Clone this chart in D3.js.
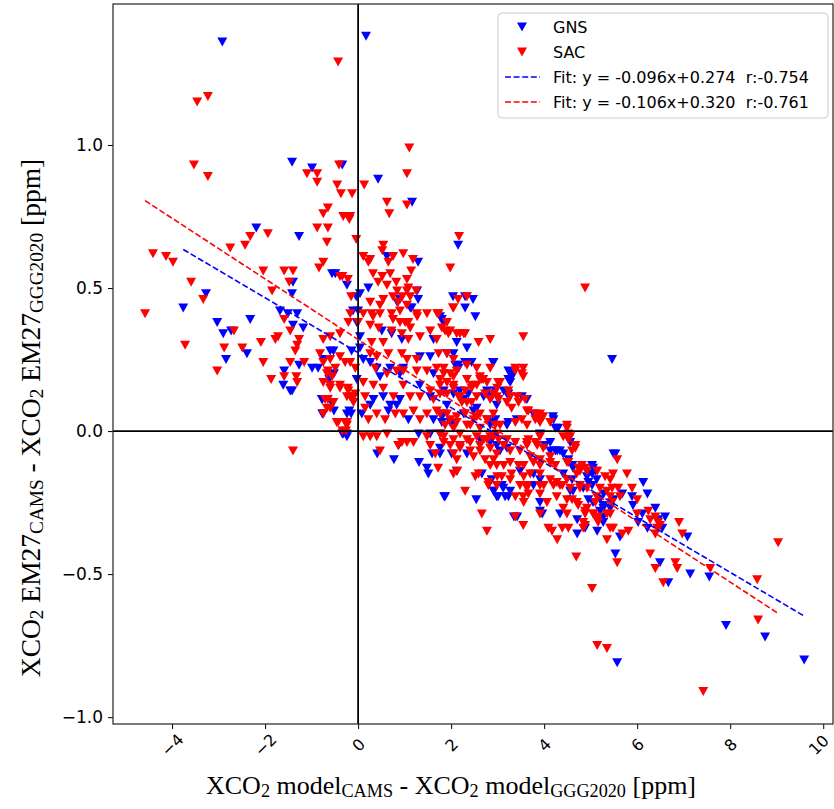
<!DOCTYPE html>
<html>
<head>
<meta charset="utf-8">
<script src="https://cdn.jsdelivr.net/npm/d3@7"></script>
<style>
  body { margin: 0; background: #fff; }
  svg text { font-family: "DejaVu Sans", sans-serif; }
  .axis-title { font-family: "Liberation Serif", "Times New Roman", serif; fill: #000; }
</style>
</head>
<body>
<div id="chart"></div>
<script>
// GNS station: [x, y] = [XCO2 model CAMS - GGG2020, XCO2 EM27 CAMS - GGG2020] in ppm
var gnsPoints = [
  [-2.92,1.36],[-1.42,0.94],[-0.99,0.92],[-0.34,0.93],[-2.19,0.71],[-1.27,0.68],
  [-1.40,0.52],[-1.42,0.48],[-3.27,0.48],[-3.76,0.43],[-0.56,0.55],[-0.49,0.55],[-0.24,0.51],[-0.04,0.47],
  [-1.68,0.42],[-1.51,0.41],[-1.31,0.41],[-1.18,0.36],[-1.40,0.37],[-2.32,0.39],[-3.03,0.38],[-2.90,0.34],
  [-2.73,0.35],[-2.39,0.27],[-2.84,0.25],[-1.27,0.23],[-0.99,0.22],[-0.86,0.22],[-1.59,0.21],[-1.61,0.16],
  [-1.46,0.14],[-1.42,0.14],[-0.62,0.18],[-0.52,0.20],[-0.77,0.11],[-0.77,0.06],[-0.52,0.07],[-0.19,0.07],
  [-0.15,0.06],[-0.34,-0.01],[-0.24,-0.01],
  [0.62,0.61],[1.29,0.59],[2.15,0.65],[0.22,0.50],[1.27,0.49],[1.29,0.46],[0.04,0.48],[0.84,0.45],[1.12,0.43],
  [2.04,0.47],[2.30,0.47],[2.47,0.46],[2.30,0.43],[-0.11,0.42],[0.00,0.42],[1.76,0.40],[1.83,0.38],[2.52,0.40],
  [2.15,0.23],[2.30,0.24],[2.90,0.24],[3.23,0.21],[3.31,0.19],[3.27,0.17],[2.77,0.13],[2.88,0.12],[3.20,0.13],
  [4.19,0.05],[4.30,0.01],[4.24,0.01],[4.13,-0.04],[4.28,-0.07],
  [0.17,1.38],[0.43,0.88],[1.16,0.80],[5.46,0.25],
  [-0.03,0.38],[0.90,0.46],[1.15,0.43],[1.80,0.39],
  [0.51,0.35],[0.72,0.34],[0.94,0.32],[0.04,0.33],[-0.60,0.28],[-0.53,0.28],[1.62,0.32],[2.12,0.31],[2.34,0.29],[1.91,0.27],
  [-0.75,0.25],[-0.14,0.28],[0.04,0.29],[0.11,0.25],[0.26,0.24],[0.40,0.22],[0.47,0.19],[0.69,0.22],[0.97,0.22],
  [1.33,0.26],[1.55,0.26],[2.05,0.27],[2.16,0.22],[2.44,0.24],[2.91,0.24],[0.90,0.20],[1.62,0.20],
  [-0.78,0.11],[-0.57,0.10],[-0.03,0.18],[0.33,0.11],[0.54,0.12],[0.69,0.09],[0.90,0.11],[1.33,0.16],[1.55,0.12],
  [1.84,0.14],[2.05,0.13],[2.27,0.11],[2.70,0.12],[2.77,0.14],[2.95,0.14],
  [-0.75,0.06],[-0.24,0.06],[0.08,0.06],[0.26,0.09],[0.65,0.07],[0.83,0.09],[1.08,0.04],[1.62,0.04],[1.80,0.05],
  [2.05,0.03],[2.27,0.06],[2.48,0.07],[2.84,0.02],[2.95,0.04],
  [-0.32,-0.01],[-0.24,-0.02],[0.87,-0.05],[1.55,-0.01],[1.30,-0.01],[1.76,-0.08],[2.34,-0.08],[2.62,-0.03],[2.84,-0.04],[2.98,-0.05],
  [2.09,0.23],[3.27,0.20],[3.23,0.18],[2.19,0.14],[2.37,0.13],[3.13,0.14],[3.23,0.13],[3.52,0.12],[3.63,0.11],
  [2.98,0.09],[1.91,0.09],[2.55,0.08],[1.84,0.06],[1.80,0.03],[1.98,0.03],[2.84,0.03],[3.23,0.03],[3.41,0.04],
  [3.77,0.06],[4.20,0.04],[3.20,0.02],
  [1.76,-0.01],[2.01,-0.08],[2.19,-0.05],[3.05,-0.07],[3.20,-0.06],[3.91,-0.01],[4.02,-0.05],[4.13,-0.07],[4.24,-0.07],
  [4.34,-0.07],[4.52,-0.10],[4.60,-0.12],[5.49,-0.08],[5.03,-0.12],[5.10,-0.14],
  [2.12,-0.14],[2.66,-0.15],[2.87,-0.17],[3.48,-0.14],[3.77,-0.15],[3.91,-0.17],[4.41,-0.15],[4.60,-0.17],[4.92,-0.16],
  [5.03,-0.15],[5.13,-0.17],[5.03,-0.19],[5.28,-0.22],[2.91,-0.21],[3.09,-0.19],[3.27,-0.21],[3.77,-0.19],[4.56,-0.21],
  [1.87,-0.23],[2.98,-0.23],[3.16,-0.23],[3.91,-0.25],[4.34,-0.29],[5.28,-0.26],[5.20,-0.24],[5.49,-0.24],
  [0.41,-0.08],[0.77,-0.10],[1.31,-0.11],[1.48,-0.13],[1.51,-0.15],[1.59,-0.08],[1.76,-0.06],[1.85,-0.23],[2.54,-0.24],
  [2.92,-0.21],[3.01,-0.23],[3.12,-0.20],[3.23,-0.23],[3.35,-0.30],[3.42,-0.30],[3.91,-0.28],[3.96,-0.29],[4.71,-0.31],[4.71,-0.36],
  [4.56,-0.04],[4.41,-0.08],[4.60,-0.12],[4.62,-0.13],[5.05,-0.13],[4.95,-0.18],[5.53,-0.08],[4.62,-0.21],[4.84,-0.20],
  [6.13,-0.18],[6.22,-0.22],[4.95,-0.24],[5.05,-0.25],[5.27,-0.27],[5.20,-0.28],[5.68,-0.22],[5.89,-0.23],[5.91,-0.26],
  [5.42,-0.27],[5.27,-0.30],[6.39,-0.27],[6.60,-0.30],[6.11,-0.29],[4.88,-0.34],[5.14,-0.35],[5.27,-0.32],[5.63,-0.37],
  [6.02,-0.32],[6.22,-0.34],[6.45,-0.31],[6.54,-0.34],[7.08,-0.37],[5.53,-0.43],[6.49,-0.46],[7.14,-0.50],[7.55,-0.51],
  [6.67,-0.53],[7.91,-0.68],[8.75,-0.72],[9.59,-0.80],[5.57,-0.81]
];

// SAC station
var sacPoints = [
  [-0.43,1.29],[-3.46,1.15],[-3.23,1.17],[-3.53,0.93],[-3.23,0.89],[-1.10,0.90],[-0.88,0.90],[-0.88,0.87],[-0.41,0.93],
  [-0.45,0.86],[-0.37,0.83],[-0.13,0.83],[-0.65,0.78],[-0.75,0.76],[-0.32,0.75],[-0.19,0.74],[-0.88,0.71],[-0.65,0.71],
  [-1.94,0.69],[-2.32,0.68],[-0.67,0.66],[-0.04,0.67],[-2.43,0.65],[-2.75,0.64],
  [-4.41,0.62],[-4.13,0.61],[-3.98,0.59],[-0.84,0.57],[-0.75,0.59],[-2.04,0.56],[-1.59,0.56],[-1.40,0.56],[-1.48,0.52],
  [-3.59,0.52],[-1.85,0.49],[-3.33,0.46],[-4.58,0.41],[-0.39,0.54],[-0.22,0.53],[-0.15,0.47],[-1.59,0.39],[-1.46,0.35],
  [-2.67,0.35],[-2.09,0.31],[-1.78,0.32],[-1.72,0.33],[-1.27,0.32],[-1.31,0.30],[-1.35,0.28],[-3.72,0.30],[-2.88,0.29],
  [-2.49,0.29],[-2.04,0.24],[-1.46,0.24],[-1.16,0.24],[-0.75,0.24],[-0.65,0.21],[-0.49,0.22],[-0.39,0.26],[-0.28,0.24],
  [-0.17,0.24],[-0.06,0.22],[-3.03,0.21],[-1.87,0.18],[-1.59,0.19],[-1.33,0.19],[-1.31,0.17],[-0.67,0.20],[-0.56,0.19],
  [-0.60,0.15],[-0.39,0.15],[-0.22,0.15],[-0.65,0.11],[-0.60,0.08],[-0.17,0.12],[-0.06,0.13],[-0.43,0.03],[-0.24,0.03],
  [-0.26,0.00],[-1.40,-0.07],
  [0.54,0.65],[0.52,0.63],[0.11,0.61],[0.22,0.59],[0.26,0.60],[0.75,0.61],[0.97,0.62],[0.65,0.59],[1.18,0.60],[1.14,0.56],
  [1.98,0.57],[2.17,0.68],[0.32,0.55],[0.52,0.54],[0.69,0.55],[-0.34,0.54],[0.43,0.52],[0.62,0.51],[0.82,0.52],[1.05,0.53],
  [1.08,0.50],[0.84,0.49],[1.05,0.49],[1.25,0.49],[0.54,0.46],[0.75,0.47],[0.95,0.47],[1.12,0.47],[0.26,0.45],[0.47,0.44],
  [0.86,0.45],[1.05,0.44],[0.90,0.42],[2.15,0.46],[2.34,0.47],[2.04,0.43],[-0.17,0.41],[0.00,0.38],[0.11,0.41],[0.32,0.40],
  [0.47,0.41],[0.75,0.39],[1.01,0.38],[1.27,0.40],[1.48,0.41],[1.70,0.41],[1.87,0.35],[1.98,0.35],[2.19,0.34],[2.30,0.34],
  [2.84,0.32],[3.55,0.33],[4.88,0.50],[2.62,0.19],[2.69,0.18],[3.38,0.22],[3.55,0.22],[3.55,0.19],[3.01,0.17],[2.99,0.15],
  [3.23,0.14],[3.27,0.12],[3.42,0.12],[3.59,0.11],[3.63,0.07],[3.81,0.06],[3.91,0.06],[3.98,0.05],[4.13,0.03],[4.49,0.01],
  [4.56,-0.02],[4.67,-0.06],[4.60,-0.07],[3.66,-0.03],[3.85,-0.05],[3.98,-0.06],
  [1.10,0.99],[1.05,0.90],[0.13,0.86],[0.62,0.80],[0.67,0.76],[1.05,0.79],[-0.17,0.75],
  [0.29,0.41],[0.72,0.41],[0.90,0.38],[1.08,0.38],[1.26,0.41],[1.73,0.41],[1.91,0.38],[1.80,0.36],[2.05,0.43],[-0.21,0.38],[-0.39,0.34],
  [0.26,0.37],[0.44,0.36],[0.72,0.35],[0.94,0.34],[1.12,0.36],[1.33,0.33],[1.55,0.35],[1.94,0.34],[2.12,0.34],[2.27,0.34],
  [1.69,0.32],[1.08,0.32],[0.54,0.31],[0.29,0.31],[-0.60,0.33],[-0.75,0.32],[2.59,0.31],
  [-0.82,0.27],[-0.60,0.25],[0.26,0.27],[0.40,0.26],[0.65,0.27],[0.94,0.27],[1.05,0.25],[1.26,0.25],[1.73,0.27],[1.91,0.27],
  [2.05,0.25],[2.34,0.23],[2.55,0.22],[2.84,0.22],[0.37,0.22],[0.62,0.20],[0.83,0.21],[0.97,0.21],[1.26,0.21],[1.48,0.21],
  [1.69,0.22],[1.84,0.20],[2.05,0.19],[2.34,0.18],[2.66,0.18],
  [-0.75,0.17],[-0.60,0.16],[-0.39,0.16],[-0.21,0.14],[-0.10,0.12],[0.11,0.17],[0.15,0.12],[0.33,0.16],[0.54,0.15],[0.76,0.12],
  [0.97,0.16],[1.12,0.12],[1.33,0.12],[1.55,0.14],[1.62,0.11],[1.76,0.16],[2.05,0.15],[2.19,0.12],[2.44,0.15],[2.55,0.16],
  [2.77,0.17],[2.84,0.11],[2.98,0.12],[-0.71,0.11],[-0.53,0.10],[-0.10,0.10],[-0.24,0.12],
  [-0.46,0.03],[-0.24,0.02],[0.15,0.08],[0.22,0.04],[0.40,0.06],[0.58,0.04],[0.80,0.06],[0.97,0.06],[1.19,0.07],[1.33,0.04],
  [1.48,0.06],[1.69,0.07],[1.91,0.06],[2.12,0.03],[2.34,0.02],[2.55,0.05],[2.77,0.04],[2.91,0.06],[-0.75,0.06],[-0.67,0.08],
  [0.11,-0.02],[0.26,-0.02],[0.40,-0.02],[0.62,-0.01],[0.94,-0.04],[1.05,-0.04],[1.19,-0.04],[1.48,-0.02],[1.55,-0.05],[1.66,-0.08],
  [2.05,-0.08],[2.19,-0.05],[2.41,-0.04],[2.62,-0.05],[2.77,-0.03],[2.91,-0.02],[2.98,-0.01],[1.76,-0.01],[1.84,-0.04],
  [1.84,0.22],[1.98,0.20],[2.12,0.21],[1.76,0.18],[1.91,0.17],[2.62,0.18],[3.05,0.17],[3.38,0.21],[3.52,0.20],
  [2.05,0.16],[2.30,0.14],[2.44,0.16],[2.55,0.12],[2.73,0.13],[2.91,0.13],[3.02,0.11],[3.20,0.10],[3.30,0.08],[3.45,0.10],
  [1.76,0.13],[1.91,0.13],[2.16,0.12],[2.23,0.10],[2.34,0.10],[2.44,0.10],
  [1.76,0.06],[1.98,0.04],[2.12,0.05],[2.30,0.06],[2.48,0.04],[2.62,0.06],[2.77,0.04],[2.95,0.02],[3.05,0.02],[3.38,0.03],
  [3.52,0.04],[3.66,0.07],[3.81,0.04],[3.91,0.05],[3.91,0.03],[3.63,0.02],[4.49,0.02],[1.87,0.02],[2.05,0.01],[2.41,0.02],[2.62,0.01],
  [1.84,-0.02],[2.05,-0.03],[2.19,-0.01],[2.34,-0.03],[2.55,-0.02],[2.70,-0.03],[2.84,-0.02],[3.02,-0.03],[3.20,-0.03],[3.38,-0.04],
  [3.63,-0.04],[3.81,-0.04],[3.91,-0.02],[4.41,-0.02],[4.52,-0.03],[4.67,-0.05],[1.98,-0.05],[2.19,-0.06],[2.41,-0.07],[2.48,-0.09],
  [2.62,-0.07],[2.84,-0.06],[2.98,-0.08],[3.13,-0.05],[3.27,-0.07],[3.48,-0.07],[3.63,-0.05],[3.70,-0.09],[3.91,-0.10],[4.13,-0.09],
  [2.91,-0.10],[2.73,-0.10],[2.12,-0.10],
  [2.84,-0.12],[2.98,-0.12],[3.13,-0.12],[3.27,-0.11],[3.45,-0.12],[3.56,-0.12],[3.77,-0.11],[3.91,-0.12],[4.13,-0.11],[4.24,-0.12],
  [4.74,-0.13],[4.81,-0.12],[4.92,-0.14],[5.20,-0.20],[5.35,-0.21],[5.46,-0.20],[2.05,-0.15],[2.52,-0.16],[3.09,-0.16],[3.30,-0.15],
  [3.56,-0.16],[3.70,-0.15],[3.91,-0.15],[4.13,-0.17],[4.27,-0.18],[4.49,-0.17],[4.70,-0.15],[2.80,-0.19],[2.98,-0.19],[3.27,-0.17],
  [3.48,-0.19],[3.63,-0.19],[3.91,-0.19],[3.99,-0.19],[4.20,-0.19],[4.34,-0.19],[4.77,-0.19],[4.92,-0.20],[2.30,-0.21],[2.59,-0.15],
  [3.38,-0.23],[3.56,-0.25],[3.66,-0.22],[3.91,-0.22],[4.27,-0.23],[4.06,-0.25],[4.49,-0.24],[4.70,-0.25],[4.92,-0.27],[5.13,-0.23],
  [5.46,-0.25],[5.06,-0.29],[3.91,-0.29],[2.66,-0.29],[3.38,-0.30],[5.35,-0.29],
  [-0.28,0.03],[-0.34,0.00],[0.47,-0.07],[0.86,-0.05],[1.72,-0.13],[2.13,-0.14],[2.80,-0.18],[2.99,-0.16],[2.77,-0.35],
  [3.55,-0.33],[3.55,-0.23],[3.63,-0.20],[4.09,-0.34],[4.17,-0.35],[4.28,-0.38],[4.52,-0.34],[4.88,-0.28],[4.88,-0.33],
  [4.52,-0.01],[4.49,-0.11],[4.52,-0.11],[4.77,-0.14],[4.88,-0.13],[5.14,-0.14],[5.31,-0.16],[5.42,-0.17],[5.48,-0.15],
  [5.78,-0.15],[5.57,-0.10],[4.39,-0.19],[4.56,-0.20],[4.77,-0.20],[5.59,-0.20],[5.89,-0.20],[4.60,-0.24],[4.73,-0.26],
  [5.10,-0.25],[5.42,-0.23],[5.63,-0.23],[6.00,-0.24],[4.41,-0.27],[4.49,-0.29],[4.88,-0.29],[5.05,-0.29],[5.16,-0.30],
  [5.42,-0.29],[6.00,-0.29],[6.24,-0.28],[6.39,-0.30],[6.45,-0.32],[4.39,-0.34],[4.84,-0.32],[4.84,-0.34],[5.14,-0.31],
  [5.16,-0.32],[5.42,-0.34],[5.48,-0.34],[5.81,-0.35],[5.68,-0.36],[5.35,-0.38],[6.28,-0.31],[6.43,-0.34],[6.49,-0.33],
  [6.39,-0.36],[6.90,-0.32],[6.97,-0.36],[4.69,-0.44],[5.57,-0.46],[6.28,-0.43],[6.39,-0.48],[6.82,-0.46],[6.86,-0.48],
  [7.57,-0.48],[5.03,-0.55],[6.56,-0.53],[9.03,-0.39],[8.58,-0.52],[8.60,-0.66],[5.14,-0.75],[5.35,-0.76],[7.42,-0.91]
];

var seriesNames = ['GNS', 'SAC'];
var seriesColors = ['#0000ff', '#ff0000'];
var fitSlopes = [-0.096, -0.106];
var fitIntercepts = [0.274, 0.320];
var fitR = [-0.754, -0.761];

var xTicks = [-4, -2, 0, 2, 4, 6, 8, 10];
var yTicks = [-1.0, -0.5, 0.0, 0.5, 1.0];

var margin = { top: 4, right: 1, bottom: 85, left: 113 };
var width = 834 - margin.left - margin.right,
    height = 809 - margin.top - margin.bottom;

var svg = d3.select('#chart')
            .append('svg')
            .attr('width', 834)
            .attr('height', 809);

var g = svg.append('g')
           .attr('transform', 'translate(' + margin.left + ',' + margin.top + ')');

var x = d3.scaleLinear().domain([-5.27, 10.21]).range([0, width]);
var y = d3.scaleLinear().domain([-1.024, 1.493]).range([height, 0]);

// Axes
var yAxis = d3.axisLeft(y)
              .tickValues(yTicks)
              .tickSize(5)
              .tickPadding(5)
              .tickFormat(d3.format('.1f'));

var xAxis = d3.axisBottom(x)
              .tickValues(xTicks)
              .tickSize(5)
              .tickPadding(0)
              .tickFormat(d3.format('d'));

var yG = g.append('g').attr('class', 'y-axis').call(yAxis);
yG.select('.domain').remove();
yG.selectAll('line').attr('stroke', '#000').attr('stroke-width', 1);
yG.selectAll('text').attr('font-size', 17).attr('fill', '#000');

var xG = g.append('g')
          .attr('class', 'x-axis')
          .attr('transform', 'translate(0,' + height + ')')
          .call(xAxis);
xG.select('.domain').remove();
xG.selectAll('line').attr('stroke', '#000').attr('stroke-width', 1);
xG.selectAll('text')
  .attr('font-size', 16)
  .attr('fill', '#000')
  .attr('y', 0)
  .attr('dy', null)
  .attr('text-anchor', 'middle')
  .attr('dominant-baseline', 'central')
  .attr('transform', function(d) {
    // keep the last label inside the picture
    var dx = d === 10 ? -5 : 0;
    return 'translate(' + dx + ',21) rotate(-45)';
  });

// Scatter
var tri = 'M-5,-4.5L5,-4.5L0,4.5Z';
[gnsPoints, sacPoints].forEach(function(pts, i) {
  g.append('g')
   .selectAll('path')
   .data(pts)
   .enter()
   .append('path')
   .attr('d', tri)
   .attr('fill', seriesColors[i])
   .attr('transform', function(d) {
     return 'translate(' + x(d[0]) + ',' + y(d[1]) + ')';
   });
});

// Zero lines
g.append('line')
 .attr('x1', 0).attr('x2', width)
 .attr('y1', y(0)).attr('y2', y(0))
 .attr('stroke', '#000').attr('stroke-width', 1.8);

g.append('line')
 .attr('x1', x(0)).attr('x2', x(0))
 .attr('y1', 0).attr('y2', height)
 .attr('stroke', '#000').attr('stroke-width', 1.8);

// Fit lines
[gnsPoints, sacPoints].forEach(function(pts, i) {
  var ext = d3.extent(pts, function(d) { return d[0]; });
  var line = d3.line()
               .x(function(d) { return x(d); })
               .y(function(d) { return y(fitSlopes[i] * d + fitIntercepts[i]); });
  g.append('path')
   .datum(ext)
   .attr('d', line)
   .attr('fill', 'none')
   .attr('stroke', seriesColors[i])
   .attr('stroke-width', 1.6)
   .attr('stroke-dasharray', '6,2.6');
});

// Frame
g.append('rect')
 .attr('width', width).attr('height', height)
 .attr('fill', 'none')
 .attr('stroke', '#222')
 .attr('stroke-width', 1.2);

// Axis titles
var xt = svg.append('text')
            .attr('class', 'axis-title')
            .attr('x', 451)
            .attr('y', 794)
            .attr('text-anchor', 'middle')
            .attr('font-size', 26);

var yt = svg.append('text')
            .attr('class', 'axis-title')
            .attr('transform', 'translate(40,418) rotate(-90)')
            .attr('text-anchor', 'middle')
            .attr('font-size', 27.5);

function addTitle(t, parts) {
  parts.forEach(function(p) {
    var s = t.append('tspan').text(p[0]);
    if (p[1]) {
      s.attr('font-size', '70%').attr('baseline-shift', '-18%');
    }
  });
}

addTitle(xt, [['XCO'], ['2', 1], [' model'], ['CAMS', 1], [' - XCO'], ['2', 1], [' model'], ['GGG2020', 1], [' [ppm]']]);
addTitle(yt, [['XCO'], ['2', 1], [' EM27'], ['CAMS', 1], [' - XCO'], ['2', 1], [' EM27'], ['GGG2020', 1], [' [ppm]']]);

// Legend
var legend = svg.append('g').attr('class', 'legend');

legend.append('rect')
      .attr('x', 498).attr('y', 13)
      .attr('width', 330).attr('height', 105)
      .attr('rx', 4)
      .attr('fill', '#fff').attr('fill-opacity', 0.8)
      .attr('stroke', '#cccccc');

var legendLabels = seriesNames.concat(fitSlopes.map(function(s, i) {
  return 'Fit: y = ' + s.toFixed(3) + 'x+' + fitIntercepts[i].toFixed(3) + '  r:' + fitR[i].toFixed(3);
}));

legendLabels.forEach(function(label, i) {
  var cy = 27 + i * 25;
  var c = seriesColors[i % 2];
  if (i < 2) {
    legend.append('path')
          .attr('d', tri)
          .attr('fill', c)
          .attr('transform', 'translate(522,' + cy + ')');
  } else {
    legend.append('line')
          .attr('x1', 505).attr('x2', 540)
          .attr('y1', cy).attr('y2', cy)
          .attr('stroke', c)
          .attr('stroke-width', 1.6)
          .attr('stroke-dasharray', '6,2.6');
  }
  legend.append('text')
        .attr('x', 553)
        .attr('y', cy)
        .attr('dy', '0.36em')
        .attr('font-size', 16)
        .attr('fill', '#000')
        .style('white-space', 'pre')
        .text(label);
});
</script>
</body>
</html>
